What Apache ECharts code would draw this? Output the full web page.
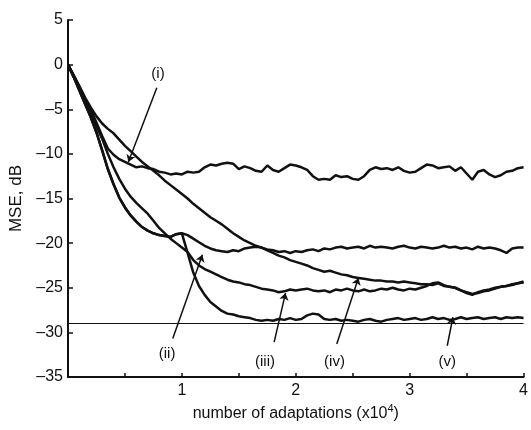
<!DOCTYPE html>
<html>
<head>
<meta charset="utf-8">
<script src="https://cdn.jsdelivr.net/npm/echarts@6/dist/echarts.min.js"></script>
<style>
  html, body { margin: 0; padding: 0; background: #fff; }
  #chart { width: 531px; height: 430px; }
</style>
</head>
<body>
<div id="chart"></div>
<script>
// adaptations, x10^4
const xs = [0, 0.05, 0.1, 0.15, 0.2, 0.25, 0.3, 0.35, 0.4, 0.45, 0.5, 0.55, 0.6, 0.65, 0.7, 0.75, 0.8, 0.85, 0.9, 0.95,
  1.0, 1.05, 1.1, 1.15, 1.2, 1.25, 1.3, 1.35, 1.4, 1.45, 1.5, 1.55, 1.6, 1.65, 1.7, 1.75, 1.8, 1.85, 1.9, 1.95,
  2.0, 2.05, 2.1, 2.15, 2.2, 2.25, 2.3, 2.35, 2.4, 2.45, 2.5, 2.55, 2.6, 2.65, 2.7, 2.75, 2.8, 2.85, 2.9, 2.95,
  3.0, 3.05, 3.1, 3.15, 3.2, 3.25, 3.3, 3.35, 3.4, 3.45, 3.5, 3.55, 3.6, 3.65, 3.7, 3.75, 3.8, 3.85, 3.9, 3.95, 4.0]

// MSE in dB, curves (i) .. (v)
const mseI = [0, -1.2, -2.5, -3.8, -5.1, -6.5, -8.0, -9.4, -10.1, -10.6, -10.9, -11.2, -11.5, -11.4, -11.6, -11.7, -12.0, -12.1, -12.3, -12.2,
  -12.3, -12.0, -12.1, -12.0, -11.5, -11.2, -11.3, -11.1, -11.0, -11.1, -11.7, -11.4, -11.6, -11.9, -12.0, -11.3, -11.8, -12.0, -11.6, -11.2,
  -11.3, -11.5, -11.8, -12.5, -12.9, -12.8, -12.9, -12.4, -12.6, -12.5, -12.8, -12.9, -12.5, -11.8, -11.5, -11.7, -11.6, -11.8, -11.5, -11.9,
  -12.1, -12.0, -11.6, -11.2, -11.3, -11.6, -11.5, -11.4, -11.9, -11.5, -12.2, -12.9, -12.0, -11.8, -12.3, -12.6, -12.4, -12.0, -11.9, -11.6, -11.5]

const mseII = [0, -1.4, -2.9, -4.4, -5.9, -7.6, -9.6, -11.7, -13.4, -14.9, -16.0, -16.9, -17.6, -18.2, -18.6, -18.9, -19.1, -19.2, -19.3, -19.0,
  -18.9, -19.1, -19.5, -19.9, -20.3, -20.6, -20.8, -20.9, -21.0, -20.8, -20.9, -20.6, -20.5, -20.4, -20.5, -20.7, -20.8, -21.0, -20.9, -21.1,
  -20.9, -21.0, -20.8, -20.7, -20.9, -20.6, -20.7, -20.5, -20.4, -20.6, -20.5, -20.4, -20.6, -20.3, -20.5, -20.4, -20.5, -20.6, -20.4, -20.3,
  -20.5, -20.6, -20.4, -20.5, -20.6, -20.5, -20.3, -20.5, -20.4, -20.6, -20.5, -20.7, -20.4, -20.6, -20.5, -20.6, -20.8, -21.1, -20.6, -20.5, -20.5]

const mseIII = [0, -1.3, -2.7, -4.1, -5.4, -6.9, -8.3, -10.0, -11.5, -12.8, -13.9, -14.8, -15.5, -16.1, -16.7, -17.5, -18.3, -18.9, -19.5, -20.0,
  -20.5, -21.0, -21.9, -22.5, -22.9, -23.2, -23.5, -23.8, -24.1, -24.3, -24.4, -24.6, -24.7, -24.9, -25.1, -25.2, -25.3, -25.5, -25.4, -25.2,
  -25.3, -25.2, -25.1, -25.3, -25.4, -25.3, -25.5, -25.2, -25.3, -25.1, -25.3, -25.4, -25.2, -25.4, -25.3, -25.1, -25.2, -25.0, -25.2, -25.3,
  -25.1, -25.2, -25.0, -24.8, -24.5, -24.4, -24.7, -24.9, -25.0, -25.3, -25.5, -25.7, -25.6, -25.4, -25.3, -25.1, -24.9, -24.8, -24.7, -24.5, -24.4]

const mseIV = [0, -1.2, -2.4, -3.7, -4.8, -5.8, -6.6, -7.2, -7.7, -8.4, -9.1, -9.7, -10.3, -10.9, -11.4, -11.9, -12.4, -13.0, -13.5, -14.0,
  -14.5, -15.0, -15.6, -16.1, -16.6, -17.1, -17.5, -17.9, -18.4, -18.9, -19.3, -19.7, -20.0, -20.3, -20.5, -20.8, -21.1, -21.4, -21.6, -21.9,
  -22.1, -22.3, -22.5, -22.8, -23.0, -23.2, -23.1, -23.3, -23.5, -23.6, -23.8, -23.9, -24.0, -24.1, -24.2, -24.2, -24.3, -24.3, -24.4, -24.3,
  -24.4, -24.5, -24.6, -24.6, -24.7, -24.5, -24.8, -24.9, -25.0, -25.3, -25.6, -25.8, -25.5, -25.3, -25.2, -25.0, -24.9, -24.8, -24.6, -24.5, -24.3]

const mseV = [0, -1.4, -2.9, -4.4, -5.9, -7.6, -9.6, -11.7, -13.4, -14.9, -16.0, -16.9, -17.6, -18.2, -18.6, -18.9, -19.1, -19.2, -19.3, -19.0,
  -18.9, -21.1, -23.3, -24.8, -25.8, -26.6, -27.1, -27.6, -27.9, -28.0, -28.2, -28.3, -28.4, -28.6, -28.7, -28.6, -28.7, -28.5, -28.6, -28.4,
  -28.6, -28.5, -28.1, -27.9, -28.0, -28.5, -28.6, -28.5, -28.7, -28.6, -28.7, -28.8, -28.6, -28.5, -28.7, -28.8, -28.6, -28.5, -28.4, -28.6,
  -28.5, -28.4, -28.6, -28.5, -28.3, -28.5, -28.4, -28.6, -28.5, -28.3, -28.5, -28.4, -28.3, -28.5, -28.4, -28.3, -28.5, -28.3, -28.4, -28.3, -28.4]

const refLevel = -29

const curveNames = ['(i)', '(ii)', '(iii)', '(iv)', '(v)']
const curves = [mseI, mseII, mseIII, mseIV, mseV]

// annotation arrows: label point, arrow tail, arrow head (data coords)
const labelAt = [[0.79, -1.0], [0.87, -32.4], [1.73, -33.3], [2.34, -33.3], [3.33, -33.3]]
const arrowFrom = [[0.78, -2.6], [0.92, -30.7], [1.81, -31.1], [2.36, -31.3], [3.33, -31.5]]
const arrowTo = [[0.53, -10.9], [1.18, -21.3], [1.91, -25.6], [2.55, -23.9], [3.38, -28.3]]

const font = '"Liberation Sans", Arial, sans-serif'
const ink = '#111'

const chart = echarts.init(document.getElementById('chart'))

const lineSeries = curves.map((ys, i) => ({
  name: curveNames[i],
  type: 'line',
  data: xs.map((x, k) => [x, ys[k]]),
  symbol: 'none',
  smooth: false,
  lineStyle: { color: ink, width: 2.5 },
  z: 3
}))

chart.setOption({
  animation: false,
  backgroundColor: '#fff',
  grid: { left: 67, right: 2, top: 20, bottom: 53 },
  xAxis: {
    type: 'value',
    min: 0,
    max: 4,
    interval: 0.5,
    name: '{a|number of adaptations (x10}{s|4}{a|)}',
    nameLocation: 'middle',
    nameGap: 24,
    nameTextStyle: {
      rich: {
        a: { fontSize: 16, fontFamily: font, color: ink },
        s: { fontSize: 11, fontFamily: font, color: ink, verticalAlign: 'top', padding: [0, 0, 8, 0] }
      }
    },
    axisLine: { onZero: false, lineStyle: { color: ink, width: 2 } },
    axisTick: { inside: true, length: 4, lineStyle: { color: ink, width: 1.5 } },
    axisLabel: {
      margin: 6,
      fontSize: 16,
      fontFamily: font,
      color: ink,
      formatter: v => (v > 0 && Number.isInteger(v)) ? String(v) : ''
    },
    splitLine: { show: false }
  },
  yAxis: {
    type: 'value',
    min: -35,
    max: 5,
    interval: 5,
    name: 'MSE, dB',
    nameLocation: 'middle',
    nameGap: 43,
    nameTextStyle: { fontSize: 17, fontFamily: font, color: ink },
    axisLine: { show: true, onZero: false, lineStyle: { color: ink, width: 2 } },
    axisTick: { show: true, inside: true, length: 5, lineStyle: { color: ink, width: 1.5 } },
    axisLabel: {
      margin: 5,
      fontSize: 16,
      fontFamily: font,
      color: ink,
      formatter: v => v < 0 ? '\u2013' + Math.abs(v) : String(v)
    },
    splitLine: { show: false }
  },
  series: [
    ...lineSeries,
    {
      name: 'reference',
      type: 'line',
      data: [],
      silent: true,
      markLine: {
        silent: true,
        symbol: 'none',
        label: { show: false },
        lineStyle: { color: ink, width: 1, type: 'solid' },
        data: [{ yAxis: refLevel }]
      }
    },
    {
      name: 'arrows',
      type: 'line',
      data: [],
      silent: true,
      markLine: {
        silent: true,
        symbol: ['none', 'arrow'],
        symbolSize: 7,
        label: { show: false },
        lineStyle: { color: ink, width: 1.5, type: 'solid' },
        data: arrowFrom.map((p, i) => [{ coord: p }, { coord: arrowTo[i] }])
      }
    },
    {
      name: 'labels',
      type: 'scatter',
      symbol: 'circle',
      symbolSize: 1,
      itemStyle: { color: 'rgba(0,0,0,0)', opacity: 1 },
      silent: true,
      z: 5,
      data: labelAt.map((p, i) => ({ value: p, name: curveNames[i] })),
      label: {
        show: true,
        position: 'inside',
        formatter: p => p.name,
        fontSize: 15,
        fontFamily: font,
        color: ink,
        opacity: 1
      }
    }
  ]
})
</script>
</body>
</html>
